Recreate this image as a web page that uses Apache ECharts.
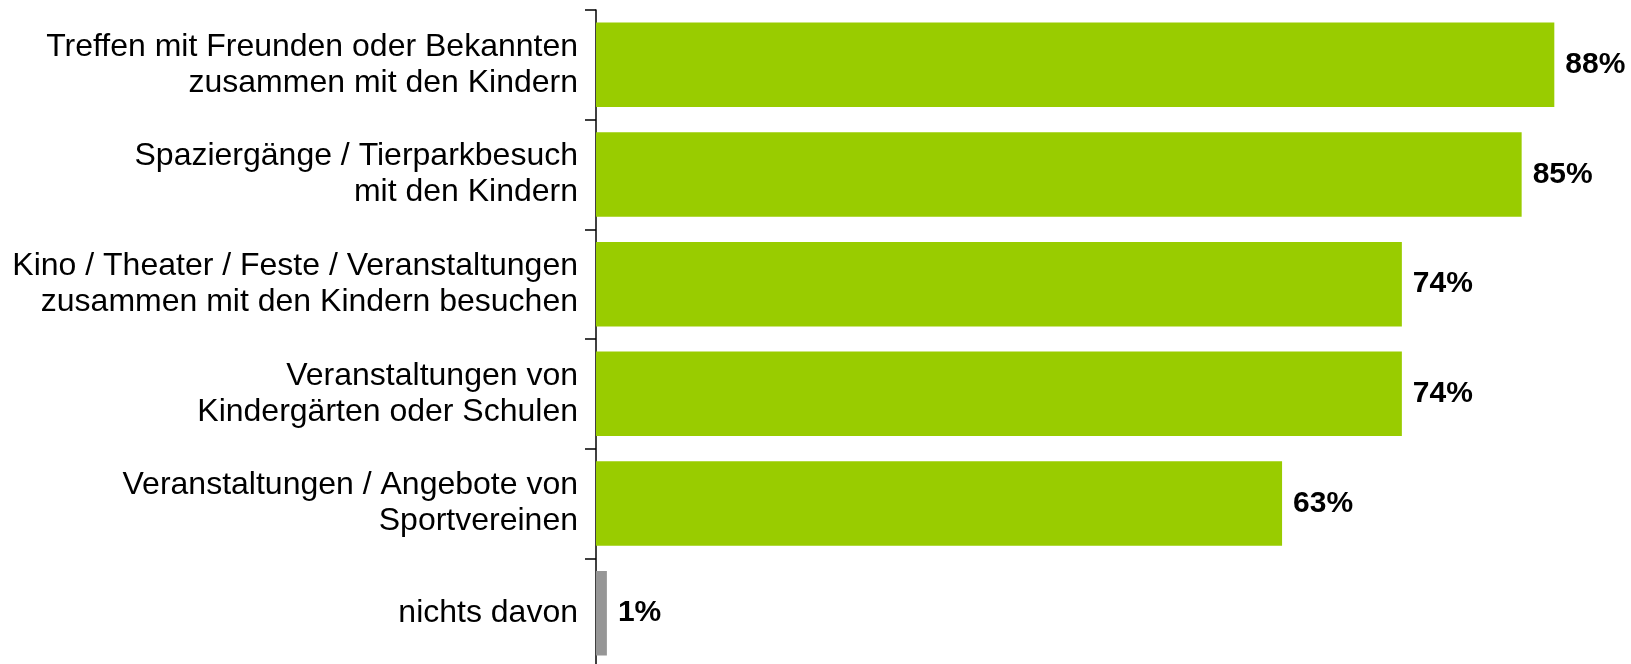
<!DOCTYPE html>
<html>
<head>
<meta charset="utf-8">
<script src="https://cdn.jsdelivr.net/npm/echarts@6/dist/echarts.min.js"></script>
<style>
html,body{margin:0;padding:0;background:#fff;}
#chart{width:1631px;height:664px;}
</style>
</head>
<body>
<div id="chart"></div>
<script>
const categories = [
  "Treffen mit Freunden oder Bekannten\nzusammen mit den Kindern",
  "Spaziergänge / Tierparkbesuch\nmit den Kindern",
  "Kino / Theater / Feste / Veranstaltungen\nzusammen mit den Kindern besuchen",
  "Veranstaltungen von\nKindergärten oder Schulen",
  "Veranstaltungen / Angebote von\nSportvereinen",
  "nichts davon"
];
const values = [88, 85, 74, 74, 63, 1];
const barColors = ["#99CC00", "#99CC00", "#99CC00", "#99CC00", "#99CC00", "#969696"];

const chart = echarts.init(document.getElementById('chart'), null, {renderer: 'canvas'});
chart.setOption({
  animation: false,
  backgroundColor: '#fff',
  grid: {left: 596, top: 10, width: 1089, height: 658, containLabel: false, outerBoundsMode: 'none'},
  xAxis: {
    type: 'value', min: 0, max: 100, show: false
  },
  yAxis: {
    type: 'category',
    inverse: true,
    data: categories,
    boundaryGap: true,
    axisLine: {show: true, lineStyle: {color: '#000', width: 1.5}},
    axisTick: {show: true, length: 11, lineStyle: {color: '#000', width: 1.5}},
    axisLabel: {
      margin: 18, color: '#000', fontSize: 32, lineHeight: 36,
      fontFamily: '"Liberation Sans", Arial, sans-serif', align: 'right'
    },
    splitLine: {show: false}
  },
  series: [{
    type: 'bar',
    barWidth: '77%',
    data: values.map((v, i) => ({value: v, itemStyle: {color: barColors[i]}})),
    label: {
      show: true, position: 'right', distance: 11,
      formatter: '{c}%', color: '#000', fontWeight: 'bold', fontSize: 30,
      fontFamily: '"Liberation Sans", Arial, sans-serif'
    }
  }]
});
</script>
</body>
</html>
